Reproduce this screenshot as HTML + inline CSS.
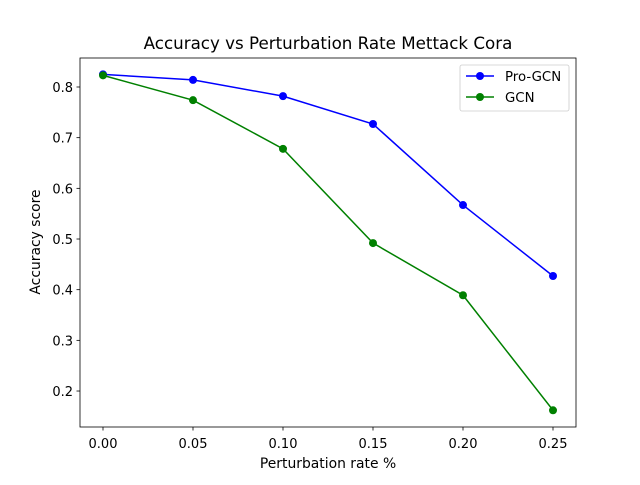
<!DOCTYPE html>
<html><head><meta charset="utf-8"><style>
body{margin:0;background:#fff;}
svg{font-family:"DejaVu Sans","Liberation Sans",sans-serif;}
</style></head><body>
<svg id="chart" width="640" height="480">
<rect width="640" height="480" fill="#fff"/>
<text x="328" y="49" font-size="16.7" text-anchor="middle">Accuracy vs Perturbation Rate Mettack Cora</text>
<rect x="80" y="58" width="496" height="369" fill="none" stroke="#000" stroke-width="0.8"/>
<g id="xticks"></g><g id="yticks"></g><g id="series"></g>
<text x="328" y="468" font-size="13.9" text-anchor="middle">Perturbation rate %</text>
<text x="0" y="0" font-size="13.9" text-anchor="middle" transform="translate(40,242) rotate(-90)">Accuracy score</text>
<g>
<rect x="460" y="65" width="109" height="46" rx="2" fill="#fff" stroke="#ccc" stroke-width="0.8"/>
<line x1="466" y1="76" x2="494" y2="76" stroke="blue" stroke-width="1.5"/><circle cx="480" cy="76" r="4" fill="blue"/>
<text x="505" y="81" font-size="13.3">Pro-GCN</text>
<line x1="466" y1="97" x2="494" y2="97" stroke="green" stroke-width="1.5"/><circle cx="480" cy="97" r="4" fill="green"/>
<text x="505" y="102" font-size="13.3">GCN</text>
</g>
</svg>
<script>
const xValues=[0,0.05,0.10,0.15,0.20,0.25];
const proGcn=[0.825,0.814,0.782,0.727,0.567,0.427];
const gcn=[0.823,0.774,0.678,0.492,0.389,0.162];
const xTickLabels=["0.00","0.05","0.10","0.15","0.20","0.25"];
const yTickValues=[0.2,0.3,0.4,0.5,0.6,0.7,0.8];
const NS="http://www.w3.org/2000/svg";
function xs(v){return 103+v/0.25*450;}
function ys(v){return 87+(0.8-v)*506.7;}
function mk(t,a,p){const e=document.createElementNS(NS,t);for(const k in a)e.setAttribute(k,a[k]);p.appendChild(e);return e;}
const xt=document.getElementById('xticks');
xValues.forEach((v,i)=>{
const l=mk('line',{x1:xs(v),x2:xs(v),y1:427,y2:430.5,stroke:'#000','stroke-width':0.8},xt);


const t=mk('text',{x:xs(v),y:448,'font-size':13,'text-anchor':'middle'},xt);t.textContent=xTickLabels[i];


});
const yt=document.getElementById('yticks');
yTickValues.forEach(v=>{
const l=mk('line',{x1:76.5,x2:80,y1:ys(v),y2:ys(v),stroke:'#000','stroke-width':0.8},yt);


const t=mk('text',{x:73,y:ys(v)+5,'font-size':13,'text-anchor':'end'},yt);t.textContent=v.toFixed(1);


});
const sg=document.getElementById('series');
[[proGcn,'blue','pro-gcn'],[gcn,'green','gcn']].forEach(([d,c,n])=>{
const pl=mk('polyline',{points:d.map((v,i)=>xs(xValues[i])+','+ys(v)).join(' '),fill:'none',stroke:c,'stroke-width':1.5},sg);


d.forEach((v,i)=>{const p=mk('circle',{cx:xs(xValues[i]),cy:ys(v),r:4,fill:c},sg);

});
});
</script>
</body></html>
